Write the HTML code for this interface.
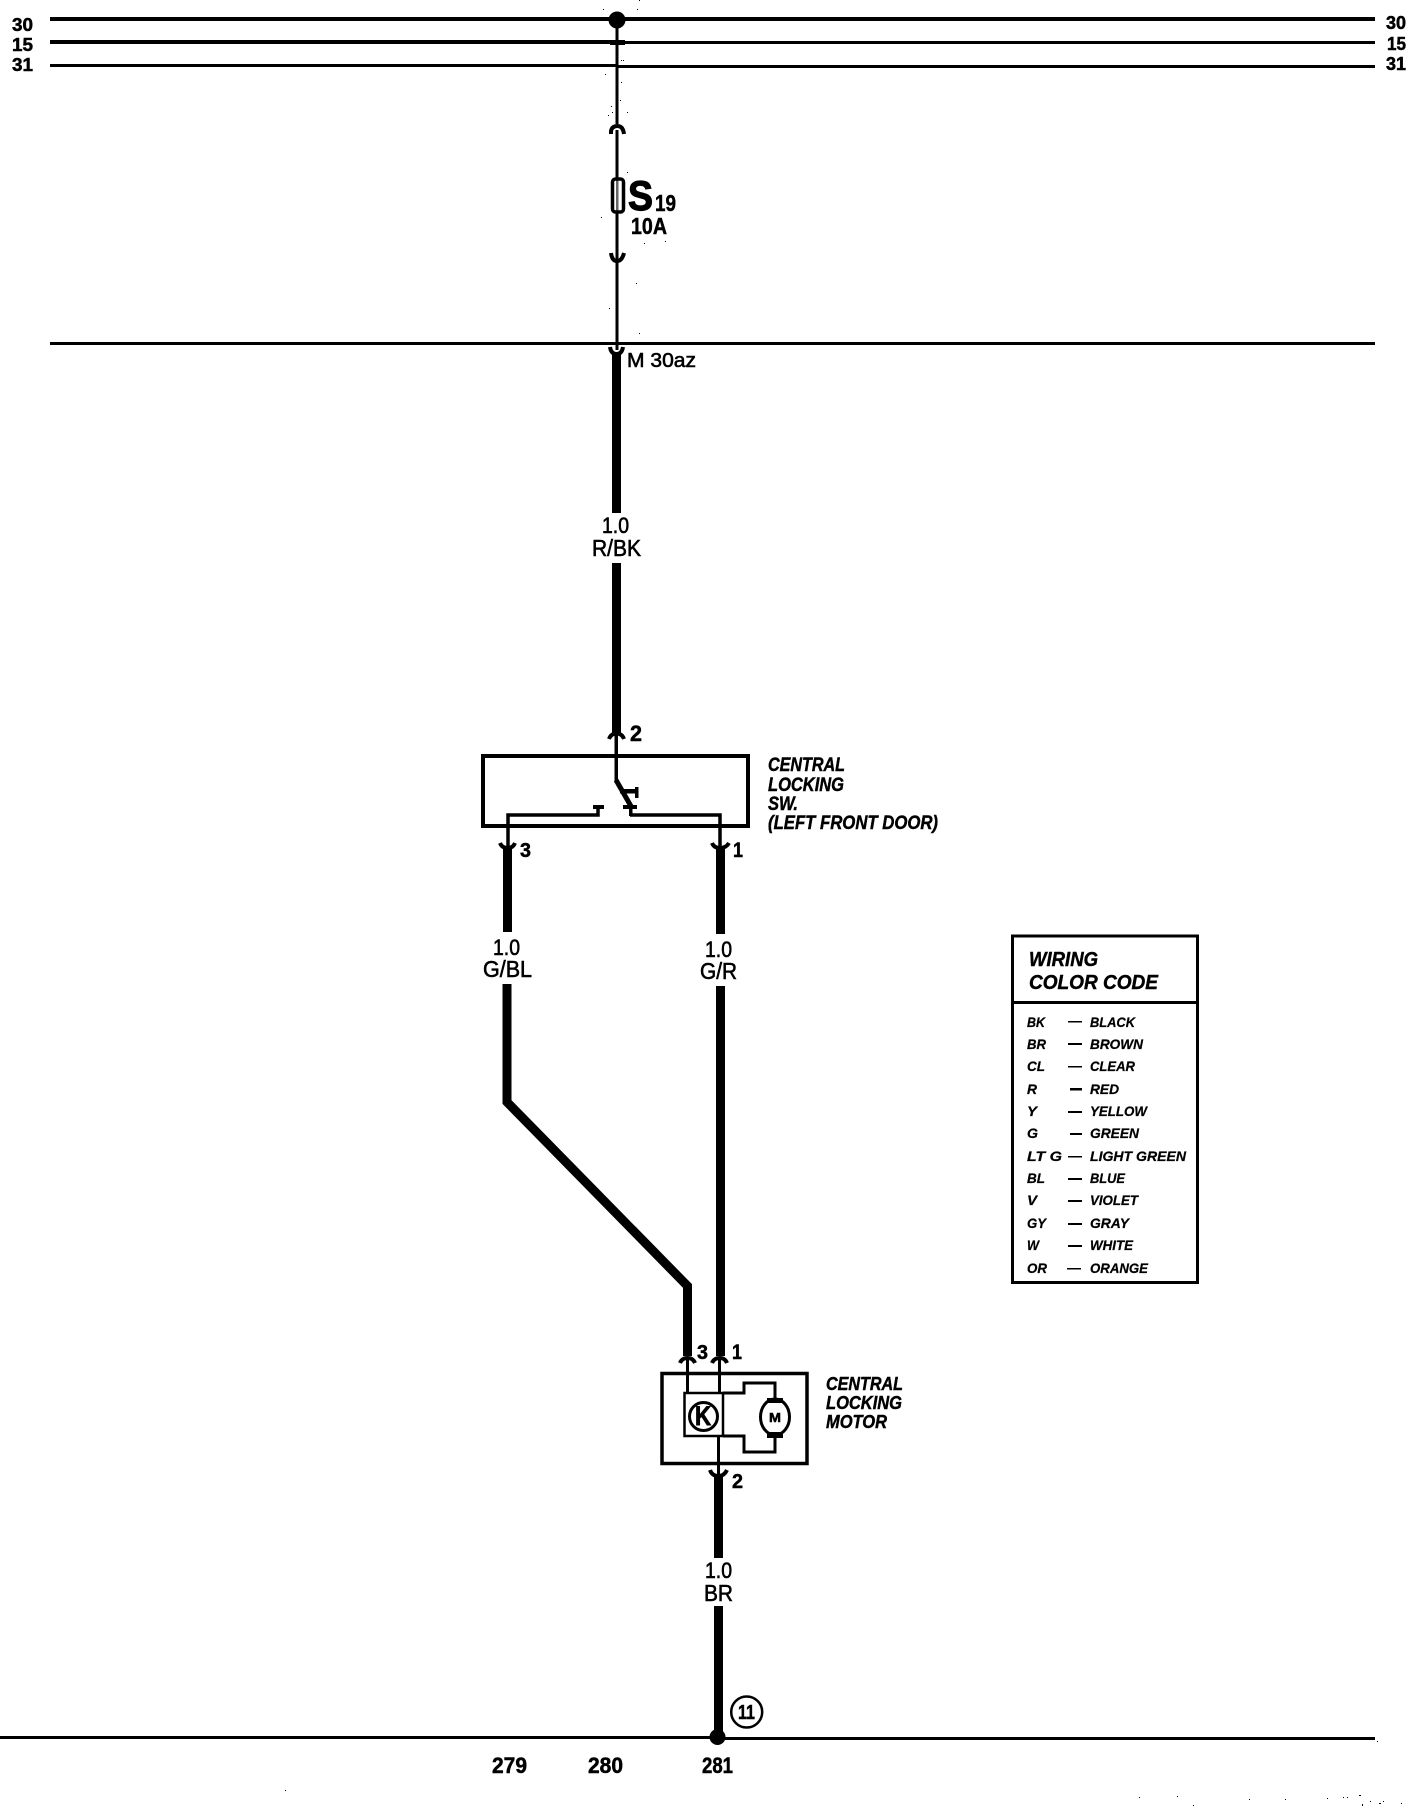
<!DOCTYPE html>
<html>
<head>
<meta charset="utf-8">
<style>
html,body{margin:0;padding:0;background:#fff;width:1408px;height:1808px;overflow:hidden}
svg{display:block}
text{font-family:"Liberation Sans",sans-serif;fill:#000}
.b{font-weight:bold}
.i{font-weight:bold;font-style:italic;stroke:#000;stroke-width:.45}
.r{stroke:#000;stroke-width:.6}
.s{font-weight:bold;stroke:#000;stroke-width:.5}
.t{fill:none;stroke:#000;stroke-width:3}
.a{fill:none;stroke:#000;stroke-width:4}
</style>
</head>
<body>
<svg width="1408" height="1808" viewBox="0 0 1408 1808" xmlns="http://www.w3.org/2000/svg">
<rect width="1408" height="1808" fill="#fff"/>

<!-- bus lines -->
<rect x="50" y="17" width="1325" height="4"/>
<rect x="50" y="40" width="567" height="4"/>
<rect x="617" y="41" width="758" height="3"/>
<rect x="50" y="64" width="567" height="3"/>
<rect x="617" y="65" width="758" height="3"/>
<rect x="50" y="342" width="1325" height="3"/>
<rect x="0" y="1736" width="718" height="3"/>
<rect x="718" y="1737" width="657" height="3"/>

<g class="s">
<text x="12" y="31" font-size="18" textLength="21" lengthAdjust="spacingAndGlyphs">30</text>
<text x="12" y="51" font-size="18" textLength="21" lengthAdjust="spacingAndGlyphs">15</text>
<text x="12" y="71" font-size="18" textLength="21" lengthAdjust="spacingAndGlyphs">31</text>
<text x="1386" y="29" font-size="18" textLength="20" lengthAdjust="spacingAndGlyphs">30</text>
<text x="1387" y="50" font-size="18" textLength="19" lengthAdjust="spacingAndGlyphs">15</text>
<text x="1386" y="70" font-size="18" textLength="20" lengthAdjust="spacingAndGlyphs">31</text>
</g>

<!-- top feed -->
<rect x="615.500" y="19" width="3" height="105"/>
<rect x="615.500" y="130" width="3" height="220"/>
<circle cx="617" cy="20" r="8.500"/>
<rect x="610" y="40" width="15" height="5"/>
<path d="M611 134 V131 Q612 126 617.500 126 Q623 126 624 134" class="a"/>
<path d="M611 253 Q612 261 617 261 Q622 261 624 253" class="a"/>

<!-- fuse -->
<rect x="612.500" y="179" width="11" height="33" rx="3" fill="#fff" stroke="#000" stroke-width="3.500"/>
<rect x="616" y="178" width="2.500" height="34" fill="#000" opacity=".6"/>
<text class="s" style="stroke-width:1.200" x="628" y="210" font-size="42" textLength="25" lengthAdjust="spacingAndGlyphs">S</text>
<text class="s" x="655" y="211" font-size="23" textLength="21" lengthAdjust="spacingAndGlyphs">19</text>
<text class="s" x="631" y="234" font-size="23" textLength="36" lengthAdjust="spacingAndGlyphs">10A</text>

<path d="M610 347 Q611 354 616.500 354 Q622 354 623 347" class="a"/>
<text class="r" x="627" y="367" font-size="20" textLength="69" lengthAdjust="spacingAndGlyphs">M 30az</text>

<!-- R/BK wire -->
<rect x="612" y="354" width="9" height="159"/>
<text class="r" x="602" y="533" font-size="22" textLength="27" lengthAdjust="spacingAndGlyphs">1.0</text>
<text class="r" x="592" y="556" font-size="23" textLength="49" lengthAdjust="spacingAndGlyphs">R/BK</text>
<rect x="612" y="563" width="9" height="170"/>
<path d="M609 739 Q611 733.500 616.500 733.500 Q622 733.500 624 739" class="a"/>
<text class="s" x="630" y="741" font-size="22" textLength="12" lengthAdjust="spacingAndGlyphs">2</text>

<!-- switch box -->
<rect x="483" y="756" width="265" height="70" fill="none" stroke="#000" stroke-width="4"/>
<rect x="614.500" y="735" width="3.500" height="46"/>
<path d="M616 780 L632 808" fill="none" stroke="#000" stroke-width="5"/>
<rect x="620" y="789" width="18" height="4.500"/>
<rect x="635" y="787" width="3.500" height="11"/>
<rect x="623" y="805" width="14" height="4"/>
<rect x="629" y="806" width="3.500" height="10"/>
<path d="M508 847 V815 H598 V808" fill="none" stroke="#000" stroke-width="3.500"/>
<rect x="593" y="805" width="11" height="4"/>
<path d="M630 815 H720 V847" fill="none" stroke="#000" stroke-width="3.500"/>

<g class="i">
<text x="768" y="771" font-size="19" textLength="77" lengthAdjust="spacingAndGlyphs">CENTRAL</text>
<text x="768" y="791" font-size="19" textLength="76" lengthAdjust="spacingAndGlyphs">LOCKING</text>
<text x="768" y="810" font-size="19" textLength="30" lengthAdjust="spacingAndGlyphs">SW.</text>
<text x="768" y="829" font-size="19" textLength="170" lengthAdjust="spacingAndGlyphs">(LEFT FRONT DOOR)</text>
</g>

<!-- G/BL wire -->
<path d="M500 843 Q502 848 507.500 848 Q513 848 515 843" class="a"/>
<path d="M712 843 Q714 848 720 848 Q726 848 729 843" class="a"/>
<rect x="503" y="847" width="9" height="85"/>
<text class="s" x="520" y="857" font-size="20" textLength="11" lengthAdjust="spacingAndGlyphs">3</text>
<text class="r" x="493" y="955" font-size="22" textLength="27" lengthAdjust="spacingAndGlyphs">1.0</text>
<text class="r" x="483" y="977" font-size="23" textLength="49" lengthAdjust="spacingAndGlyphs">G/BL</text>
<path d="M507 984 V1102 L687.500 1286 V1356" fill="none" stroke="#000" stroke-width="9"/>

<!-- G/R wire -->
<rect x="716" y="847" width="9" height="87"/>
<text class="s" x="733" y="857" font-size="21" textLength="10" lengthAdjust="spacingAndGlyphs">1</text>
<text class="r" x="705" y="957" font-size="22" textLength="27" lengthAdjust="spacingAndGlyphs">1.0</text>
<text class="r" x="700" y="979" font-size="23" textLength="37" lengthAdjust="spacingAndGlyphs">G/R</text>
<rect x="716" y="986" width="9" height="370"/>

<!-- motor -->
<path d="M680 1363 Q682 1358 687.500 1358 Q693 1358 695 1363" class="a"/>
<path d="M712 1363 Q714 1358 720 1358 Q725 1358 727 1363" class="a"/>
<text class="s" x="697" y="1359" font-size="20" textLength="11" lengthAdjust="spacingAndGlyphs">3</text>
<text class="s" x="732" y="1359" font-size="21" textLength="10" lengthAdjust="spacingAndGlyphs">1</text>
<rect x="662" y="1373.500" width="145" height="90" fill="none" stroke="#000" stroke-width="3.500"/>
<rect x="684.500" y="1393" width="38.500" height="43" fill="none" stroke="#000" stroke-width="2.500"/>
<path d="M687.500 1360 V1393 M719.500 1360 V1393" class="t"/>
<path d="M723 1393 H744 V1383 H775 V1400 M723 1436 H744 V1452 H775 V1436" class="t"/>
<circle cx="703.500" cy="1416.500" r="14" fill="none" stroke="#000" stroke-width="3"/>
<text class="s" style="stroke-width:.9" x="695" y="1425" font-size="27" textLength="16" lengthAdjust="spacingAndGlyphs">K</text>
<ellipse cx="775" cy="1417" rx="14.500" ry="18" fill="#fff" stroke="#000" stroke-width="3"/>
<rect x="767" y="1398" width="16" height="5"/>
<rect x="767" y="1432" width="16" height="6"/>
<text class="s" x="769" y="1422" font-size="13" textLength="12" lengthAdjust="spacingAndGlyphs">M</text>
<rect x="717" y="1436" width="3" height="38"/>
<path d="M710 1470 Q712 1476 718.500 1476 Q724 1476 727 1470" class="a"/>
<text class="s" x="732" y="1488" font-size="20" textLength="11" lengthAdjust="spacingAndGlyphs">2</text>

<g class="i">
<text x="826" y="1390" font-size="18.500" textLength="77" lengthAdjust="spacingAndGlyphs">CENTRAL</text>
<text x="826" y="1409" font-size="18.500" textLength="76" lengthAdjust="spacingAndGlyphs">LOCKING</text>
<text x="826" y="1428" font-size="18.500" textLength="61" lengthAdjust="spacingAndGlyphs">MOTOR</text>
</g>

<!-- BR wire -->
<rect x="714" y="1475" width="9" height="83"/>
<text class="r" x="705" y="1578" font-size="22" textLength="27" lengthAdjust="spacingAndGlyphs">1.0</text>
<text class="r" x="704" y="1601" font-size="23" textLength="29" lengthAdjust="spacingAndGlyphs">BR</text>
<rect x="714" y="1606" width="9" height="130"/>
<circle cx="717.500" cy="1737" r="8"/>
<circle cx="746.700" cy="1712" r="15.500" fill="none" stroke="#000" stroke-width="2.500"/>
<text class="s" x="738" y="1719" font-size="20" textLength="17" lengthAdjust="spacingAndGlyphs">11</text>

<g class="s">
<text x="492" y="1773" font-size="22" textLength="35" lengthAdjust="spacingAndGlyphs">279</text>
<text x="588" y="1773" font-size="22" textLength="35" lengthAdjust="spacingAndGlyphs">280</text>
<text x="702" y="1773" font-size="22" textLength="31" lengthAdjust="spacingAndGlyphs">281</text>
</g>

<!-- legend -->
<rect x="1012.500" y="936" width="185" height="346.500" class="t"/>
<rect x="1012" y="1001" width="186" height="3"/>
<g class="i">
<text x="1029" y="966" font-size="20" textLength="69" lengthAdjust="spacingAndGlyphs">WIRING</text>
<text x="1029" y="989" font-size="20" textLength="129" lengthAdjust="spacingAndGlyphs">COLOR CODE</text>
</g>
<g class="i" font-size="14" style="stroke-width:.25">
<text x="1027" y="1027" textLength="18" lengthAdjust="spacingAndGlyphs">BK</text><text x="1090" y="1027" textLength="45" lengthAdjust="spacingAndGlyphs">BLACK</text>
<text x="1027" y="1049" textLength="19" lengthAdjust="spacingAndGlyphs">BR</text><text x="1090" y="1049" textLength="53" lengthAdjust="spacingAndGlyphs">BROWN</text>
<text x="1027" y="1071" textLength="18" lengthAdjust="spacingAndGlyphs">CL</text><text x="1090" y="1071" textLength="45" lengthAdjust="spacingAndGlyphs">CLEAR</text>
<text x="1027" y="1094" textLength="10" lengthAdjust="spacingAndGlyphs">R</text><text x="1090" y="1094" textLength="29" lengthAdjust="spacingAndGlyphs">RED</text>
<text x="1027" y="1116" textLength="10" lengthAdjust="spacingAndGlyphs">Y</text><text x="1090" y="1116" textLength="57" lengthAdjust="spacingAndGlyphs">YELLOW</text>
<text x="1027" y="1138" textLength="11" lengthAdjust="spacingAndGlyphs">G</text><text x="1090" y="1138" textLength="49" lengthAdjust="spacingAndGlyphs">GREEN</text>
<text x="1027" y="1161" textLength="35" lengthAdjust="spacingAndGlyphs">LT G</text><text x="1090" y="1161" textLength="96" lengthAdjust="spacingAndGlyphs">LIGHT GREEN</text>
<text x="1027" y="1183" textLength="18" lengthAdjust="spacingAndGlyphs">BL</text><text x="1090" y="1183" textLength="35" lengthAdjust="spacingAndGlyphs">BLUE</text>
<text x="1027" y="1205" textLength="10" lengthAdjust="spacingAndGlyphs">V</text><text x="1090" y="1205" textLength="48" lengthAdjust="spacingAndGlyphs">VIOLET</text>
<text x="1027" y="1228" textLength="19" lengthAdjust="spacingAndGlyphs">GY</text><text x="1090" y="1228" textLength="39" lengthAdjust="spacingAndGlyphs">GRAY</text>
<text x="1027" y="1250" textLength="12" lengthAdjust="spacingAndGlyphs">W</text><text x="1090" y="1250" textLength="43" lengthAdjust="spacingAndGlyphs">WHITE</text>
<text x="1027" y="1273" textLength="20" lengthAdjust="spacingAndGlyphs">OR</text><text x="1090" y="1273" textLength="58" lengthAdjust="spacingAndGlyphs">ORANGE</text>
</g>
<g>
<rect x="1068" y="1021" width="14" height="1.500"/>
<rect x="1068" y="1043" width="14" height="2"/>
<rect x="1068" y="1066" width="14" height="1.500"/>
<rect x="1070" y="1088" width="12" height="2.500"/>
<rect x="1068" y="1111" width="14" height="2"/>
<rect x="1070" y="1133" width="12" height="2"/>
<rect x="1068" y="1156" width="14" height="1.500"/>
<rect x="1068" y="1178" width="14" height="2"/>
<rect x="1068" y="1200" width="14" height="2"/>
<rect x="1068" y="1223" width="14" height="2"/>
<rect x="1068" y="1245" width="14" height="2"/>
<rect x="1067" y="1268" width="14" height="1.500"/>
</g>

<!-- specks -->
<g>
<rect x="1139" y="1797" width="1" height="1"/><rect x="1177" y="1796" width="1" height="1"/>
<rect x="1193" y="1805" width="1" height="1"/><rect x="1249" y="1799" width="1" height="1"/>
<rect x="1285" y="1799" width="1" height="1"/><rect x="1327" y="1798" width="1" height="1"/>
<rect x="1343" y="1797" width="1" height="1"/><rect x="1347" y="1797" width="1" height="1"/>
<rect x="1359" y="1795" width="2" height="1"/><rect x="1362" y="1804" width="1" height="2"/>
<rect x="1370" y="1801" width="1" height="1"/><rect x="1379" y="1803" width="2" height="1"/>
<rect x="1383" y="1801" width="1" height="1"/><rect x="1401" y="1803" width="1" height="1"/>
<rect x="1377" y="1741" width="1" height="1"/><rect x="285" y="1790" width="1" height="1"/>
<rect x="603" y="9" width="1" height="1"/><rect x="639" y="0" width="1" height="1"/>
<rect x="637" y="9" width="1" height="1"/><rect x="605" y="74" width="1" height="1"/>
<rect x="621" y="82" width="1" height="1"/><rect x="620" y="100" width="1" height="1"/>
<rect x="611" y="106" width="1" height="1"/><rect x="627" y="112" width="1" height="1"/>
<rect x="608" y="115" width="1" height="1"/><rect x="612" y="112" width="1" height="1"/>
<rect x="621" y="60" width="1" height="1"/><rect x="623" y="60" width="1" height="1"/>
<rect x="627" y="172" width="1" height="1"/><rect x="601" y="217" width="1" height="1"/>
<rect x="644" y="243" width="1" height="1"/><rect x="665" y="241" width="1" height="1"/>
<rect x="636" y="283" width="1" height="1"/><rect x="609" y="308" width="1" height="1"/>
<rect x="639" y="333" width="1" height="1"/>
</g>
</svg>
</body>
</html>
